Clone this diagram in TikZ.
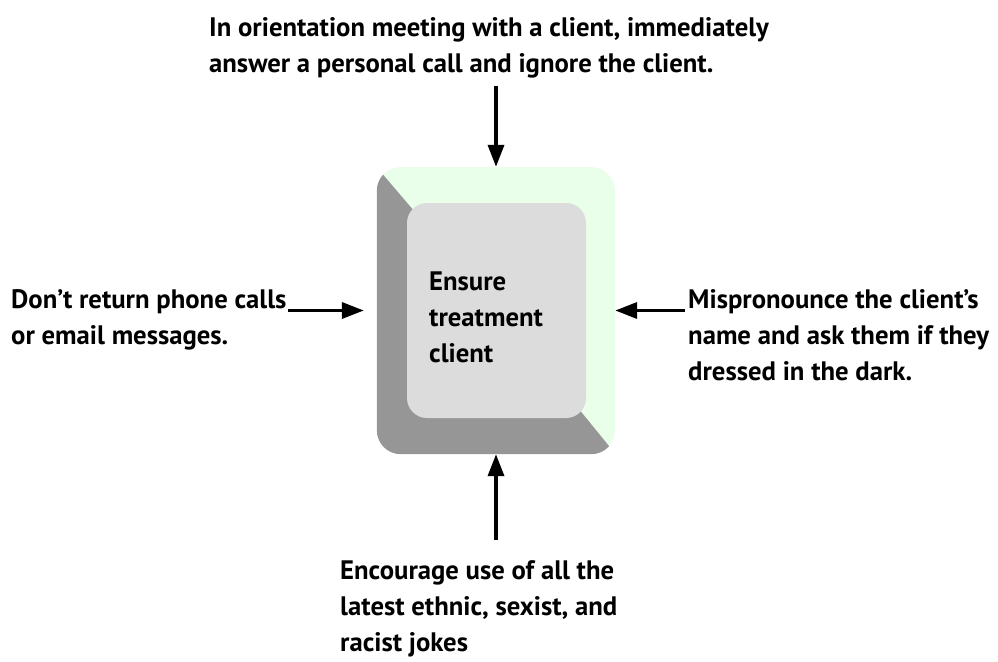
\documentclass[tikz,border=0pt]{standalone}
\usepackage{fontspec}
\setmainfont{PT Sans}
\usetikzlibrary{arrows.meta,positioning}

\definecolor{keygreen}{RGB}{234,255,234}
\definecolor{keyshade}{RGB}{150,150,150}
\definecolor{keytop}{RGB}{220,220,220}

\begin{document}
\begin{tikzpicture}[x=1pt, y=-1pt,
  keybox/.style={rounded corners=24pt, minimum width=238pt, minimum height=287pt, inner sep=0pt},
  keyface/.style={rounded corners=20pt, fill=keytop, minimum width=179pt, minimum height=215pt, inner sep=0pt},
  txt/.style={font=\fontsize{26.7}{35.8}\selectfont\bfseries, align=left, anchor=base west, inner sep=0pt},
  arr/.style={line width=3.5pt, -{Triangle[length=22pt,width=16pt]}},
]
\useasboundingbox (0,0) rectangle (998,661);

% ====== Key in the middle ======
\node[keybox, fill=keygreen] (key) at (496,310.5) {};
\begin{scope}
  \clip[rounded corners=24pt] (key.north west) rectangle (key.south east);
  \fill[keyshade] (368,157) -- (490,300) -- (622,462) -- (368,462) -- cycle;
\end{scope}
\node[keyface] (face) at (496.5,310.5) {};
% (base of a multi-line node = baseline of its last line)
\node[txt] (main) at (429,362) {Ensure\\treatment\\client};

% ====== Notes round the key ======
\node[txt] (topnote) at (209,72) {In orientation meeting with a client, immediately\\answer a personal call and ignore the client.};
\node[txt] (leftnote) at (11,344) {Don’t return phone calls\\or email messages.};
\node[txt] (rightnote) at (688,380) {Mispronounce the client’s\\name and ask them if they\\dressed in the dark.};
\node[txt] (bottomnote) at (340,651) {Encourage use of all the\\latest ethnic, sexist, and\\racist jokes};

% ====== Arrows ======
\coordinate (ttail) at (496,86);
\coordinate (btail) at (496,540);
\coordinate (ltail) at (288,310.5);
\coordinate (rtail) at (685,310.5);
\draw[arr] (ttail) -- (key.north);
\draw[arr] (btail) -- (key.south);
\draw[arr] (ltail) -- ([xshift=-13pt]key.west);
\draw[arr] (rtail) -- (key.east);

\end{tikzpicture}
\end{document}
